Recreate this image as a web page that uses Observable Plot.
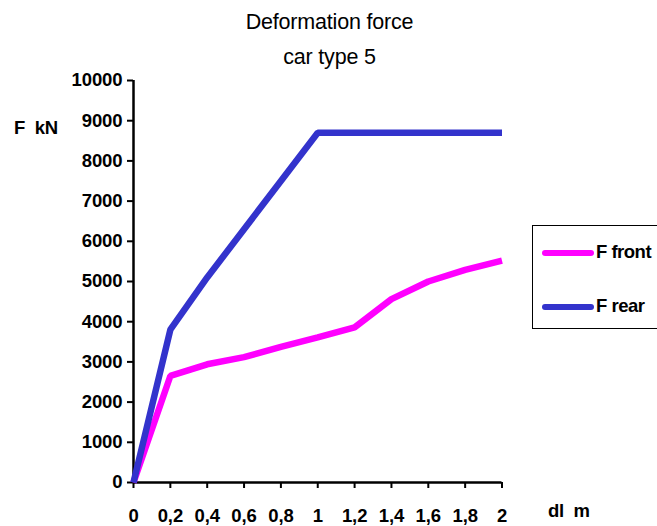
<!DOCTYPE html>
<html>
<head>
<meta charset="utf-8">
<script src="https://cdn.jsdelivr.net/npm/d3@7"></script>
<script src="https://cdn.jsdelivr.net/npm/@observablehq/plot@0.6"></script>
<style>
  html, body { margin: 0; padding: 0; background: #fff; }
  #wrap { position: relative; width: 657px; height: 526px; overflow: hidden; font-family: "Liberation Sans", Arial, sans-serif; }
  #title { position: absolute; left: 0; width: 659px; top: 5px; text-align: center; font-size: 21.5px; line-height: 35px; color: #000; letter-spacing: -0.2px; }
  .lab { position: absolute; font-weight: bold; font-size: 18.5px; letter-spacing: -0.3px; color: #000; white-space: pre; }
  #legend { position: absolute; left: 532px; top: 225px; width: 140px; height: 104px; border: 1.5px solid #000; box-sizing: border-box; background: #fff; }
  .sw { position: absolute; left: 9px; width: 52px; height: 6px; border-radius: 3px; }
  .lt { position: absolute; left: 63px; font-weight: bold; font-size: 18.5px; letter-spacing: -0.5px; line-height: 20px; }
</style>
</head>
<body>
<div id="wrap">
  <div id="title">Deformation force<br>car type 5</div>
  <div class="lab" style="left:14px; top:117px;">F  kN</div>
  <div class="lab" style="left:548px; top:500px;">dl  m</div>
</div>
<script>
const dl = [0, 0.2, 0.4, 0.6, 0.8, 1.0, 1.2, 1.4, 1.6, 1.8, 2.0];
const fFront = [0, 2650, 2940, 3120, 3375, 3610, 3860, 4560, 5000, 5290, 5520];
const fRear = [0, 3800, 5100, 6300, 7500, 8700, 8700, 8700, 8700, 8700, 8700];
const seriesNames = ["F front", "F rear"];
const seriesColors = ["#ff00ff", "#3333cc"];
const xTicks = [0, 0.2, 0.4, 0.6, 0.8, 1, 1.2, 1.4, 1.6, 1.8, 2];
const yTicks = [0, 1000, 2000, 3000, 4000, 5000, 6000, 7000, 8000, 9000, 10000];

const front = dl.map((x, i) => ({x, y: fFront[i]}));
const rear = dl.map((x, i) => ({x, y: fRear[i]}));

const fmt = d => String(d).replace(".", ",");

const chart = Plot.plot({
  width: 657,
  height: 526,
  marginLeft: 133,
  marginRight: 155.5,
  marginTop: 80,
  marginBottom: 44,
  style: {fontFamily: "'Liberation Sans', Arial, sans-serif", fontSize: "18.5px", fontWeight: "bold", color: "#000", background: "transparent", letterSpacing: "-0.1px"},
  x: {domain: [0, 2]},
  y: {domain: [0, 10000]},
  marks: [
    Plot.axisY(yTicks, {tickSize: 6, tickPadding: 5, tickFormat: d => String(d), label: null, strokeWidth: 2}),
    Plot.axisX(xTicks, {tickSize: 6, tickPadding: 20, tickFormat: fmt, label: null, strokeWidth: 2}),
    Plot.ruleX([0], {stroke: "#000", strokeWidth: 2.5}),
    Plot.ruleY([0], {stroke: "#000", strokeWidth: 2.5}),
    Plot.line(front, {x: "x", y: "y", stroke: seriesColors[0], strokeWidth: 6.5, strokeLinejoin: "miter", strokeLinecap: "butt"}),
    Plot.line(rear, {x: "x", y: "y", stroke: seriesColors[1], strokeWidth: 6.5, strokeLinejoin: "miter", strokeLinecap: "butt"})
  ]
});
chart.style.position = "absolute";
chart.style.left = "0px";
chart.style.top = "0px";
const wrap = document.getElementById("wrap");
wrap.insertBefore(chart, wrap.firstChild);

const leg = document.createElement("div");
leg.id = "legend";
seriesNames.forEach((name, i) => {
  const top = i === 0 ? 24 : 78;
  const sw = document.createElement("div");
  sw.className = "sw";
  sw.style.top = top + "px";
  sw.style.background = seriesColors[i];
  leg.appendChild(sw);
  const t = document.createElement("div");
  t.className = "lt";
  t.style.top = (top - 8) + "px";
  t.textContent = name;
  leg.appendChild(t);
});
wrap.appendChild(leg);
</script>
</body>
</html>
